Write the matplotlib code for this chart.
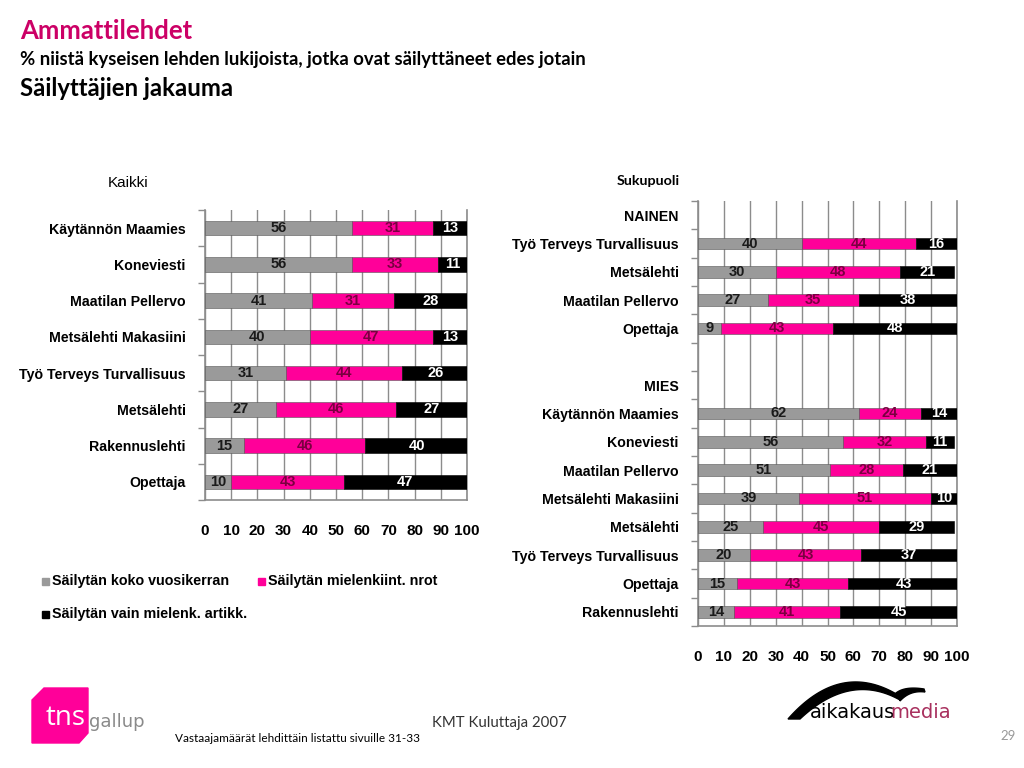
import matplotlib
matplotlib.use('Agg')
from matplotlib import pyplot as plt
from matplotlib.patches import Polygon, Rectangle
import numpy as np

# Kaikki
left_cats = ['Käytännön Maamies', 'Koneviesti', 'Maatilan Pellervo', 'Metsälehti Makasiini',
             'Työ Terveys Turvallisuus', 'Metsälehti', 'Rakennuslehti', 'Opettaja']
left_koko = [56, 56, 41, 40, 31, 27, 15, 10]
left_nrot = [31, 33, 31, 47, 44, 46, 46, 43]
left_artikk = [13, 11, 28, 13, 26, 27, 40, 47]

# Sukupuoli
nainen_cats = ['Työ Terveys Turvallisuus', 'Metsälehti', 'Maatilan Pellervo', 'Opettaja']
nainen_koko = [40, 30, 27, 9]
nainen_nrot = [44, 48, 35, 43]
nainen_artikk = [16, 21, 38, 48]

mies_cats = ['Käytännön Maamies', 'Koneviesti', 'Maatilan Pellervo', 'Metsälehti Makasiini',
             'Metsälehti', 'Työ Terveys Turvallisuus', 'Opettaja', 'Rakennuslehti']
mies_koko = [62, 56, 51, 39, 25, 20, 15, 14]
mies_nrot = [24, 32, 28, 51, 45, 43, 43, 41]
mies_artikk = [14, 11, 21, 10, 29, 37, 43, 45]

series_names = ['Säilytän koko vuosikerran', 'Säilytän mielenkiint. nrot', 'Säilytän vain mielenk. artikk.']
colors = ['#9a9a9a', '#ff0099', '#000000']
text_colors = ['#1a1a1a', '#7a0040', '#ffffff']
ticks = list(range(0, 101, 10))

W, H = 1024, 768
fig = plt.figure(figsize=(W / 100, H / 100), dpi=100)
fig.patch.set_facecolor('white')
bold = dict(family='Liberation Sans', weight='bold')


def px_axes(x0, y0, x1, y1):
    return fig.add_axes([x0 / W, 1 - y1 / H, (x1 - x0) / W, (y1 - y0) / H])


def fig_text(x, y, s, **kw):
    fig.text(x / W, 1 - y / H, s, **kw)


def draw_chart(ax, cats, data, height):
    n = len(cats)
    ypos = np.arange(n)
    # rivit ilman arvoja (otsikot) jätetään tyhjiksi
    rows = [i for i in range(n) if data[0][i] is not None]
    left = np.zeros(len(rows))
    for vals, col, tcol in zip(data, colors, text_colors):
        v = np.array([vals[i] for i in rows], dtype=float)
        ax.barh(ypos[rows], v, left=left, height=height, color=col,
                edgecolor='#555555' if col != '#000000' else 'black', linewidth=0.4, zorder=3)
        for yy, l, x in zip(ypos[rows], left, v):
            ax.text(l + x / 2, yy, '%d' % x, ha='center', va='center', color=tcol,
                    fontsize=10.5, zorder=4, **bold)
        left = left + v
    ax.set_xlim(0, 100)
    ax.set_ylim(n - 0.5, -0.5)
    ax.set_xticks(ticks)
    ax.set_xticklabels([str(t) for t in ticks], fontsize=11, **bold)
    ax.tick_params(axis='x', length=0, pad=17)
    ax.set_yticks(ypos)
    ax.set_yticklabels(cats, fontsize=10.2, **bold)
    ax.tick_params(axis='y', which='major', length=0, pad=14)
    ax.set_yticks(np.arange(-0.5, n + 0.5, 1), minor=True)
    ax.tick_params(axis='y', which='minor', length=5, color='#8c8c8c', width=1)
    ax.grid(axis='x', color='#8c8c8c', linewidth=1, zorder=0)
    ax.spines['top'].set_visible(False)
    for s in ['left', 'bottom', 'right']:
        ax.spines[s].set_color('#8c8c8c')
        ax.spines[s].set_linewidth(1.2)


# Vasen kaavio
ax1 = px_axes(205, 210, 467, 500)
draw_chart(ax1, left_cats, [left_koko, left_nrot, left_artikk], 0.4)

# Oikea kaavio: otsikkorivit ilman palkkeja
right_cats = ['NAINEN'] + nainen_cats + ['', 'MIES'] + mies_cats
right_data = []
for a, b in [(nainen_koko, mies_koko), (nainen_nrot, mies_nrot), (nainen_artikk, mies_artikk)]:
    right_data.append([None] + a + [None, None] + b)
ax2 = px_axes(698, 201, 957, 626)
draw_chart(ax2, right_cats, right_data, 0.42)

# Otsikot
fig_text(20, 31, 'Ammattilehdet', fontsize=18.5, color='#cc0066', weight='bold', family='Lato', va='center')
fig_text(20, 60, '% niistä kyseisen lehden lukijoista, jotka ovat säilyttäneet edes jotain',
         fontsize=13.3, weight='bold', family='Lato', va='center')
fig_text(20, 88, 'Säilyttäjien jakauma', fontsize=17.2, weight='bold', family='Lato', va='center')
fig_text(108, 183, 'Kaikki', fontsize=11, family='Liberation Sans', va='center')
fig_text(617, 181, 'Sukupuoli', fontsize=10.3, weight='bold', family='Lato', va='center')

# Selite
leg_pos = [(42, 581), (258, 581), (42, 614)]
for (x, y), name, col in zip(leg_pos, series_names, colors):
    fig.patches.append(Rectangle((x / W, 1 - (y + 4) / H), 7 / W, 7 / H,
                                 transform=fig.transFigure, color=col, figure=fig))
    fig_text(x + 10, y, name, fontsize=10.3, va='center', **bold)

# Alatunniste: tns gallup
fig.patches.append(Polygon([(44 / W, 1 - 688 / H), (88 / W, 1 - 688 / H), (88 / W, 1 - 733 / H),
                            (79 / W, 1 - 743 / H), (32 / W, 1 - 743 / H), (32 / W, 1 - 700 / H)],
                           closed=True, transform=fig.transFigure, color='#ff0099', figure=fig))
fig_text(46, 718, 'tns', fontsize=20, color='white', family='Open Sans', va='center')
fig_text(89, 722, 'gallup', fontsize=13, color='#8a8a8a', family='Liberation Sans Narrow', va='center')
fig_text(432, 723, 'KMT Kuluttaja 2007', fontsize=10.8, color='#333333', family='Lato', va='center')
fig_text(175, 738, 'Vastaajamäärät lehdittäin listattu sivuille 31-33', fontsize=8.5,
         family='Lato', va='center')
fig_text(1000, 736, '29', fontsize=9.5, color='#999999', family='Lato', va='center')

# aikakausmedia-logo
t = np.linspace(0, 1, 60)[:, None]


def bez(p0, p1, p2):
    p0, p1, p2 = np.array(p0), np.array(p1), np.array(p2)
    return (1 - t) ** 2 * p0 + 2 * (1 - t) * t * p1 + t ** 2 * p2


top = bez((788, 719), (840, 660), (898, 695))
bottom = bez((900, 700), (850, 672), (800, 719))
hook_top = bez((896, 693), (905, 686), (924, 689))
hook_bot = bez((925, 692), (910, 690), (900, 701))
pts = np.vstack([top, hook_top, hook_bot, bottom])
fig.patches.append(Polygon(np.column_stack([pts[:, 0] / W, 1 - pts[:, 1] / H]), closed=True,
                           transform=fig.transFigure, color='black', figure=fig))
fig_text(810, 713, 'aikakaus', fontsize=14, family='Liberation Sans Narrow', va='center', ha='left')
fig_text(890, 713, 'media', fontsize=14, color='#a8305e', family='Liberation Sans Narrow',
         va='center', ha='left')

fig.savefig('out.png', dpi=100)
